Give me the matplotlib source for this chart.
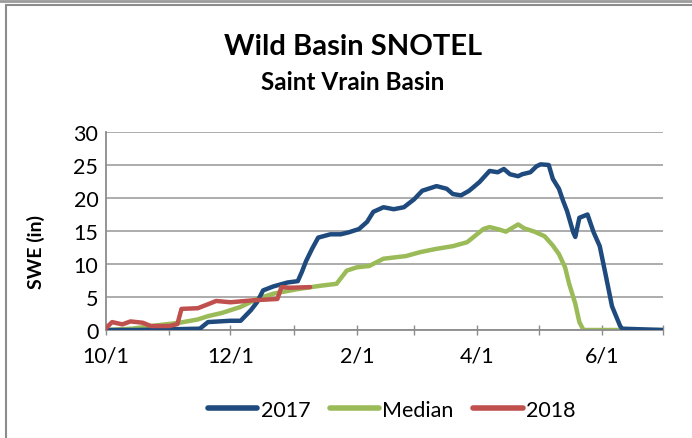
import matplotlib.pyplot as plt
import matplotlib.dates as mdates
from matplotlib.patches import Rectangle
from matplotlib.lines import Line2D
import pandas as pd

plt.rcParams['font.family'] = ['Lato', 'DejaVu Sans']

# water year dates (m/d), Oct-Dec belong to 2017, Jan-Jul to 2018
dates_2017 = ['10/1', '10/16', '11/16', '11/20', '12/1', '12/6', '12/11', '12/14', '12/17',
              '12/22', '12/29', '1/3', '1/5', '1/7', '1/10', '1/13', '1/19', '1/24', '1/28',
              '2/2', '2/6', '2/9', '2/14', '2/19', '2/24', '3/1', '3/5', '3/12', '3/17',
              '3/20', '3/24', '3/28', '4/2', '4/7', '4/11', '4/14', '4/17', '4/21', '4/23',
              '4/27', '4/30', '5/2', '5/6', '5/8', '5/11', '5/13', '5/15', '5/18', '5/19',
              '5/21', '5/25', '5/28', '5/31', '6/3', '6/6', '6/10', '6/11', '7/1']
swe_2017 = [0, 0, 0.2, 1.2, 1.4, 1.4, 3.0, 4.2, 6.0,
            6.6, 7.2, 7.4, 8.8, 10.4, 12.3, 14.0, 14.5, 14.5, 14.8,
            15.3, 16.4, 17.9, 18.6, 18.3, 18.6, 19.8, 21.1, 21.8, 21.4,
            20.6, 20.4, 21.1, 22.4, 24.1, 23.9, 24.4, 23.6, 23.3, 23.6,
            23.9, 24.8, 25.1, 25.0, 22.9, 21.4, 19.6, 18.0, 14.8, 14.1,
            17.0, 17.5, 14.8, 12.7, 8.2, 3.6, 0.6, 0.2, 0]

dates_median = ['10/1', '10/14', '10/23', '11/6', '11/15', '11/20', '11/27', '12/6', '12/14',
                '12/22', '1/3', '1/14', '1/22', '1/27', '2/1', '2/7', '2/14', '2/25', '3/4',
                '3/12', '3/20', '3/27', '3/31', '4/4', '4/7', '4/12', '4/15', '4/21', '4/24',
                '4/29', '5/4', '5/8', '5/11', '5/14', '5/16', '5/19', '5/21', '5/23', '7/1']
swe_median = [0, 0.2, 0.6, 1.1, 1.6, 2.1, 2.6, 3.5, 4.7,
              5.5, 6.2, 6.7, 7.0, 9.0, 9.5, 9.7, 10.8, 11.2, 11.8,
              12.3, 12.7, 13.3, 14.3, 15.3, 15.6, 15.2, 14.9, 16.0, 15.4,
              14.9, 14.2, 12.8, 11.5, 9.5, 7.0, 4.0, 1.2, 0, 0]

dates_2018 = ['10/1', '10/4', '10/9', '10/13', '10/19', '10/23', '11/1', '11/5', '11/7',
              '11/15', '11/20', '11/24', '12/1', '12/12', '12/24', '12/26', '12/30', '1/9']
swe_2018 = [0.3, 1.2, 0.85, 1.3, 1.1, 0.6, 0.6, 0.9, 3.2,
            3.3, 3.9, 4.4, 4.2, 4.5, 4.7, 6.5, 6.4, 6.5]

tick_labels = ['10/1', '12/1', '2/1', '4/1', '6/1']


def to_date(md):
    m, d = (int(v) for v in md.split('/'))
    return pd.Timestamp(year=2017 if m >= 10 else 2018, month=m, day=d)


fig = plt.figure(figsize=(6.92, 4.39), dpi=100)
ax = fig.add_axes([106 / 692, 108 / 439, 557 / 692, 198 / 439])

ax.plot([to_date(d) for d in dates_2017], swe_2017, color='#1F4A7E', lw=3.2,
        solid_capstyle='round', label='2017', zorder=3)
ax.plot([to_date(d) for d in dates_median], swe_median, color='#9BBB59', lw=3.2,
        solid_capstyle='round', label='Median', zorder=2)
ax.plot([to_date(d) for d in dates_2018], swe_2018, color='#C0504D', lw=3.2,
        solid_capstyle='round', label='2018', zorder=4)

ax.set_xlim(to_date('10/1'), to_date('7/1'))
ax.set_ylim(0, 30)
ax.set_yticks(range(0, 31, 5))
ax.xaxis.set_minor_locator(mdates.MonthLocator())
ax.set_xticks([to_date(t) for t in tick_labels])
ax.set_xticklabels(tick_labels)
ax.tick_params(axis='x', which='both', direction='inout', length=7, width=1, color='#8C8C8C',
               labelsize=15.5, pad=8)
ax.tick_params(axis='y', left=False, labelsize=15.5, pad=2)
ax.set_ylabel('SWE (in)', fontsize=14, fontweight='bold')
ax.yaxis.set_label_coords(-0.11, 0.40)

ax.yaxis.grid(True, color='#A6A6A6', lw=1.3)
ax.set_axisbelow(True)
for s in ['top', 'right']:
    ax.spines[s].set_visible(False)
for s in ['left', 'bottom']:
    ax.spines[s].set_color('#8C8C8C')
    ax.spines[s].set_linewidth(1.3)

fig.text(0.51, 1 - 47 / 439, 'Wild Basin SNOTEL', ha='center', va='center',
         fontsize=21, fontweight='bold')
fig.text(0.51, 1 - 82 / 439, 'Saint Vrain Basin', ha='center', va='center',
         fontsize=17.5, fontweight='bold')

handles = [Line2D([], [], color=l.get_color(), lw=4, solid_capstyle='round') for l in ax.get_lines()]
fig.legend(handles, ['2017', 'Median', '2018'], loc='center', bbox_to_anchor=(0.566, 1 - 411 / 439),
           ncol=3, frameon=False, fontsize=15.5, handlelength=2.3, handletextpad=0.15,
           columnspacing=0.9)

# chart border like the spreadsheet frame
fig.add_artist(Line2D([0, 1], [1 - 1.5 / 439] * 2, transform=fig.transFigure, color='#9A9A9A', lw=2))
fig.add_artist(Rectangle((6 / 692, -0.05), 1.1, 1 - 5.5 / 439 + 0.05, transform=fig.transFigure,
                         fill=False, edgecolor='#8C8C8C', lw=1.5))

fig.savefig('out.png', dpi=100)
plt.close(fig)
